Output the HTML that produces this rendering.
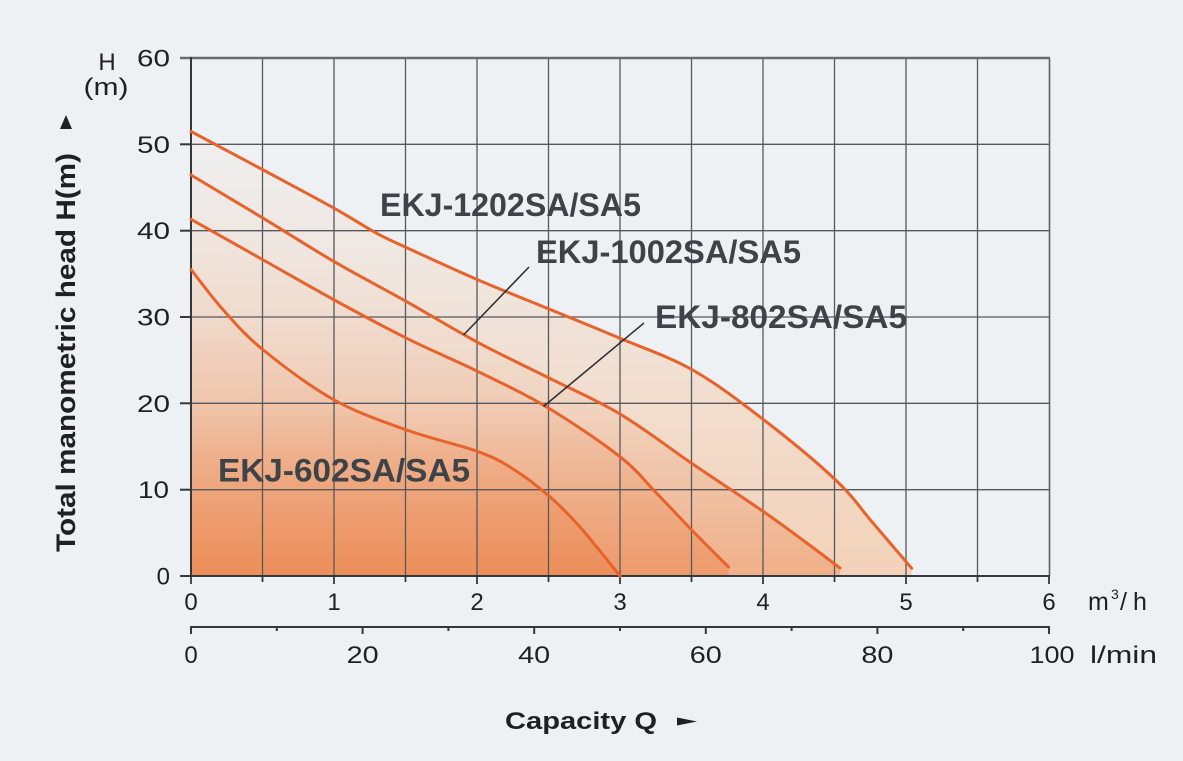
<!DOCTYPE html>
<html>
<head>
<meta charset="utf-8">
<style>
html,body{margin:0;padding:0;background:#eef1f4;}
svg{display:block;}
text{font-family:"Liberation Sans",sans-serif;}
</style>
</head>
<body>
<svg width="1183" height="761" viewBox="0 0 1183 761" xmlns="http://www.w3.org/2000/svg">
<defs>
<linearGradient id="gA" gradientUnits="userSpaceOnUse" x1="0" y1="131" x2="0" y2="576">
<stop offset="0" stop-color="#ff923e" stop-opacity="0.02"/>
<stop offset="1" stop-color="#ff923e" stop-opacity="0.33"/>
</linearGradient>
<linearGradient id="gB" gradientUnits="userSpaceOnUse" x1="0" y1="131" x2="0" y2="576">
<stop offset="0" stop-color="#e86e2d" stop-opacity="0"/>
<stop offset="0.222" stop-color="#e86e2d" stop-opacity="0.0109"/>
<stop offset="0.418" stop-color="#e86e2d" stop-opacity="0.0316"/>
<stop offset="0.613" stop-color="#e86e2d" stop-opacity="0.0816"/>
<stop offset="0.807" stop-color="#e86e2d" stop-opacity="0.211"/>
<stop offset="1" stop-color="#e86e2d" stop-opacity="0.34"/>
</linearGradient>
<linearGradient id="gC" gradientUnits="userSpaceOnUse" x1="0" y1="131" x2="0" y2="576">
<stop offset="0" stop-color="#e86e2d" stop-opacity="0"/>
<stop offset="0.222" stop-color="#e86e2d" stop-opacity="0.0106"/>
<stop offset="0.418" stop-color="#e86e2d" stop-opacity="0.0307"/>
<stop offset="0.613" stop-color="#e86e2d" stop-opacity="0.0792"/>
<stop offset="0.807" stop-color="#e86e2d" stop-opacity="0.205"/>
<stop offset="1" stop-color="#e86e2d" stop-opacity="0.33"/>
</linearGradient>
<linearGradient id="gD" gradientUnits="userSpaceOnUse" x1="0" y1="131" x2="0" y2="576">
<stop offset="0" stop-color="#e86e2d" stop-opacity="0"/>
<stop offset="0.222" stop-color="#e86e2d" stop-opacity="0.0088"/>
<stop offset="0.418" stop-color="#e86e2d" stop-opacity="0.0257"/>
<stop offset="0.613" stop-color="#e86e2d" stop-opacity="0.0662"/>
<stop offset="0.807" stop-color="#e86e2d" stop-opacity="0.171"/>
<stop offset="1" stop-color="#e86e2d" stop-opacity="0.276"/>
</linearGradient>
</defs>

<rect x="0" y="0" width="1183" height="761" fill="#eef1f4"/>

<!-- Fills -->
<path fill="url(#gA)" d="M191,131.5 C203.05,137.92 239.42,157.2 263.3,170 C287.18,182.8 315.4,197.75 334.3,208.3 C353.2,218.85 364.63,226.73 376.7,233.3 C388.77,239.87 389.77,239.92 406.7,247.7 C423.63,255.48 454.58,269.78 478.3,280 C502.02,290.22 525.38,299.28 549,309 C572.62,318.72 596.05,328.13 620,338.3 C643.95,348.47 668.7,356.38 692.7,370 C716.7,383.62 740.17,401.67 764,420 C787.83,438.33 817.53,462.83 835.7,480 C853.87,497.17 860.33,508.28 873,523 C885.67,537.72 905.25,560.75 911.7,568.3 L911.7,576 L191,576 Z"/>
<path fill="url(#gB)" d="M191,175 C203.05,182.22 239.42,203.85 263.3,218.3 C287.18,232.75 310.4,247.8 334.3,261.7 C358.2,275.6 382.7,288.2 406.7,301.7 C430.7,315.2 454.58,329.98 478.3,342.7 C502.02,355.42 525.38,366.12 549,378 C572.62,389.88 596.05,399.67 620,414 C643.95,428.33 668.7,447.67 692.7,464 C716.7,480.33 745,498.83 764,512 C783,525.17 794.03,533.67 806.7,543 C819.37,552.33 834.45,563.83 840,568 L840,576 L191,576 Z"/>
<path fill="url(#gC)" d="M191,219.3 C203.05,226.08 239.42,246.55 263.3,260 C287.18,273.45 310.4,286.95 334.3,300 C358.2,313.05 382.7,326.35 406.7,338.3 C430.7,350.25 454.97,360.25 478.3,371.7 C501.63,383.15 523.08,392.83 546.7,407 C570.32,421.17 601.67,442.32 620,456.7 C638.33,471.08 644.58,480.92 656.7,493.3 C668.82,505.68 680.73,518.72 692.7,531 C704.67,543.28 722.53,561 728.5,567 L728.5,576 L191,576 Z"/>
<path fill="url(#gD)" d="M191,269.5 C196.38,276.25 211.25,296.58 223.3,310 C235.35,323.42 244.8,335 263.3,350 C281.8,365 310.4,386.67 334.3,400 C358.2,413.33 382.7,421.38 406.7,430 C430.7,438.62 460.58,445.2 478.3,451.7 C496.02,458.2 501.22,461.62 513,469 C524.78,476.38 537.83,486.33 549,496 C560.17,505.67 568.17,513.67 580,527 C591.83,540.33 613.33,567.83 620,576 L191,576 Z"/>

<!-- Grid -->
<g stroke="#55595d" stroke-width="1.3" fill="none">
<line x1="262.5" y1="58" x2="262.5" y2="576"/>
<line x1="334" y1="58" x2="334" y2="576"/>
<line x1="405.5" y1="58" x2="405.5" y2="576"/>
<line x1="477" y1="58" x2="477" y2="576"/>
<line x1="548.5" y1="58" x2="548.5" y2="576"/>
<line x1="620" y1="58" x2="620" y2="576"/>
<line x1="691.5" y1="58" x2="691.5" y2="576"/>
<line x1="763" y1="58" x2="763" y2="576"/>
<line x1="834.5" y1="58" x2="834.5" y2="576"/>
<line x1="906" y1="58" x2="906" y2="576"/>
<line x1="977.5" y1="58" x2="977.5" y2="576"/>
<line x1="191" y1="144.3" x2="1049" y2="144.3"/>
<line x1="191" y1="230.7" x2="1049" y2="230.7"/>
<line x1="191" y1="317" x2="1049" y2="317"/>
<line x1="191" y1="403.3" x2="1049" y2="403.3"/>
<line x1="191" y1="489.7" x2="1049" y2="489.7"/>
</g>
<!-- Frame -->
<line x1="1049.5" y1="58" x2="1049.5" y2="576" stroke="#5d6165" stroke-width="1.6"/>
<line x1="180" y1="58" x2="1050" y2="58" stroke="#676b70" stroke-width="2.6"/>
<!-- Y axis -->
<g stroke="#35383b" stroke-width="2">
<line x1="191" y1="57" x2="191" y2="577"/>
<line x1="180" y1="144.3" x2="191" y2="144.3"/>
<line x1="180" y1="230.7" x2="191" y2="230.7"/>
<line x1="180" y1="317" x2="191" y2="317"/>
<line x1="180" y1="403.3" x2="191" y2="403.3"/>
<line x1="180" y1="489.7" x2="191" y2="489.7"/>
<line x1="180" y1="576" x2="1050" y2="576"/>
</g>
<!-- X ticks upper -->
<g stroke="#35383b" stroke-width="1.8">
<line x1="191" y1="576" x2="191" y2="584"/>
<line x1="262.5" y1="576" x2="262.5" y2="582"/>
<line x1="334" y1="576" x2="334" y2="584"/>
<line x1="405.5" y1="576" x2="405.5" y2="582"/>
<line x1="477" y1="576" x2="477" y2="584"/>
<line x1="548.5" y1="576" x2="548.5" y2="582"/>
<line x1="620" y1="576" x2="620" y2="584"/>
<line x1="691.5" y1="576" x2="691.5" y2="582"/>
<line x1="763" y1="576" x2="763" y2="584"/>
<line x1="834.5" y1="576" x2="834.5" y2="582"/>
<line x1="906" y1="576" x2="906" y2="584"/>
<line x1="977.5" y1="576" x2="977.5" y2="582"/>
<line x1="1049" y1="576" x2="1049" y2="584"/>
</g>
<!-- Lower axis -->
<g stroke="#35383b" stroke-width="2">
<line x1="190" y1="627" x2="1050" y2="627"/>
<line x1="191" y1="627" x2="191" y2="634"/>
<line x1="276.8" y1="627" x2="276.8" y2="631"/>
<line x1="362.6" y1="627" x2="362.6" y2="634"/>
<line x1="448.4" y1="627" x2="448.4" y2="631"/>
<line x1="534.2" y1="627" x2="534.2" y2="634"/>
<line x1="620" y1="627" x2="620" y2="631"/>
<line x1="705.8" y1="627" x2="705.8" y2="634"/>
<line x1="791.6" y1="627" x2="791.6" y2="631"/>
<line x1="877.4" y1="627" x2="877.4" y2="634"/>
<line x1="963.2" y1="627" x2="963.2" y2="631"/>
<line x1="1049" y1="627" x2="1049" y2="634"/>
</g>

<!-- Curves -->
<g fill="none" stroke="#e8622b" stroke-width="3" stroke-linecap="round" stroke-linejoin="round">
<path d="M191,131.5 C203.05,137.92 239.42,157.2 263.3,170 C287.18,182.8 315.4,197.75 334.3,208.3 C353.2,218.85 364.63,226.73 376.7,233.3 C388.77,239.87 389.77,239.92 406.7,247.7 C423.63,255.48 454.58,269.78 478.3,280 C502.02,290.22 525.38,299.28 549,309 C572.62,318.72 596.05,328.13 620,338.3 C643.95,348.47 668.7,356.38 692.7,370 C716.7,383.62 740.17,401.67 764,420 C787.83,438.33 817.53,462.83 835.7,480 C853.87,497.17 860.33,508.28 873,523 C885.67,537.72 905.25,560.75 911.7,568.3"/>
<path d="M191,175 C203.05,182.22 239.42,203.85 263.3,218.3 C287.18,232.75 310.4,247.8 334.3,261.7 C358.2,275.6 382.7,288.2 406.7,301.7 C430.7,315.2 454.58,329.98 478.3,342.7 C502.02,355.42 525.38,366.12 549,378 C572.62,389.88 596.05,399.67 620,414 C643.95,428.33 668.7,447.67 692.7,464 C716.7,480.33 745,498.83 764,512 C783,525.17 794.03,533.67 806.7,543 C819.37,552.33 834.45,563.83 840,568"/>
<path d="M191,219.3 C203.05,226.08 239.42,246.55 263.3,260 C287.18,273.45 310.4,286.95 334.3,300 C358.2,313.05 382.7,326.35 406.7,338.3 C430.7,350.25 454.97,360.25 478.3,371.7 C501.63,383.15 523.08,392.83 546.7,407 C570.32,421.17 601.67,442.32 620,456.7 C638.33,471.08 644.58,480.92 656.7,493.3 C668.82,505.68 680.73,518.72 692.7,531 C704.67,543.28 722.53,561 728.5,567"/>
<path d="M191,269.5 C196.38,276.25 211.25,296.58 223.3,310 C235.35,323.42 244.8,335 263.3,350 C281.8,365 310.4,386.67 334.3,400 C358.2,413.33 382.7,421.38 406.7,430 C430.7,438.62 460.58,445.2 478.3,451.7 C496.02,458.2 501.22,461.62 513,469 C524.78,476.38 537.83,486.33 549,496 C560.17,505.67 568.17,513.67 580,527 C591.83,540.33 613.33,567.83 620,576"/>
</g>

<!-- Leaders -->
<g stroke="#2e3134" stroke-width="1.6">
<line x1="463.5" y1="335" x2="529" y2="267"/>
<line x1="543.5" y1="406.5" x2="644" y2="323"/>
</g>

<!-- Series labels -->
<g fill="#3e4348" font-weight="bold" font-size="32">
<text x="380" y="216" textLength="261" lengthAdjust="spacingAndGlyphs">EKJ-1202SA/SA5</text>
<text x="536" y="263" textLength="265" lengthAdjust="spacingAndGlyphs">EKJ-1002SA/SA5</text>
<text x="655" y="328" textLength="252" lengthAdjust="spacingAndGlyphs">EKJ-802SA/SA5</text>
<text x="218" y="481.5" textLength="252" lengthAdjust="spacingAndGlyphs">EKJ-602SA/SA5</text>
</g>

<!-- Y tick labels -->
<g fill="#1e2124" font-size="24" text-anchor="end">
<text x="170" y="66.5" textLength="33" lengthAdjust="spacingAndGlyphs">60</text>
<text x="170" y="152.8" textLength="33" lengthAdjust="spacingAndGlyphs">50</text>
<text x="170" y="239" textLength="33" lengthAdjust="spacingAndGlyphs">40</text>
<text x="170" y="325.5" textLength="33" lengthAdjust="spacingAndGlyphs">30</text>
<text x="170" y="412" textLength="33" lengthAdjust="spacingAndGlyphs">20</text>
<text x="169" y="498" textLength="31" lengthAdjust="spacingAndGlyphs">10</text>
<text x="170" y="584.5">0</text>
</g>
<!-- X tick labels -->
<g fill="#1e2124" font-size="24" text-anchor="middle">
<text x="191" y="610">0</text>
<text x="334" y="610">1</text>
<text x="477" y="610">2</text>
<text x="620" y="610">3</text>
<text x="763" y="610">4</text>
<text x="906" y="610">5</text>
<text x="1049" y="610">6</text>
<text x="191" y="663">0</text>
<text x="362.6" y="663" textLength="32" lengthAdjust="spacingAndGlyphs">20</text>
<text x="534.2" y="663" textLength="32" lengthAdjust="spacingAndGlyphs">40</text>
<text x="705.8" y="663" textLength="32" lengthAdjust="spacingAndGlyphs">60</text>
<text x="877.4" y="663" textLength="32" lengthAdjust="spacingAndGlyphs">80</text>
<text x="1052" y="663" textLength="45" lengthAdjust="spacingAndGlyphs">100</text>
</g>
<g fill="#1e2124" font-size="24">
<text x="1088" y="610" font-size="25">m</text>
<text x="1111" y="599" font-size="14">3</text>
<text x="1120" y="610" font-size="25">/</text>
<text x="1133" y="610" font-size="25">h</text>
<text x="1090" y="663" textLength="67" lengthAdjust="spacingAndGlyphs">l/min</text>
<text x="107" y="70" text-anchor="middle">H</text>
<text x="106" y="95" text-anchor="middle" textLength="45" lengthAdjust="spacingAndGlyphs">(m)</text>
</g>

<!-- Y axis title -->
<text transform="translate(75,552) rotate(-90)" x="0" y="0" fill="#1e2124" font-size="27" font-weight="bold" textLength="399" lengthAdjust="spacingAndGlyphs">Total manometric head H(m)</text>
<polygon points="66,115 72,129 60,129" fill="#1e2124"/>

<!-- X axis title -->
<text x="505" y="729" fill="#1e2124" font-size="24" font-weight="bold" textLength="152" lengthAdjust="spacingAndGlyphs">Capacity Q</text>
<polygon points="677,717.5 697,721.5 677,725.5" fill="#1e2124"/>
</svg>
</body>
</html>
